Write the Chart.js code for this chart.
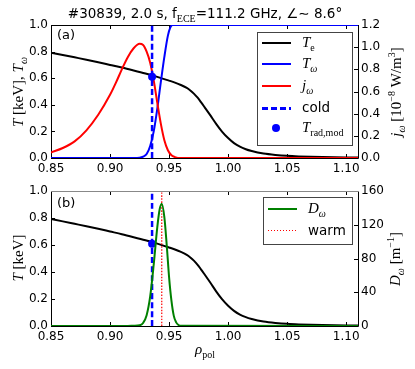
<!DOCTYPE html>
<html lang="en">
<head>
<meta charset="UTF-8" />
<title>ECE radiation transport #30839</title>
<script src="https://cdn.jsdelivr.net/npm/chart.js"></script>
<style>
  body { margin: 0; background: #fff; }
  #wrap { position: relative; width: 415px; height: 369px; overflow: hidden;
          font-family: "DejaVu Sans", sans-serif; color: #000; }
  canvas { position: absolute; left: 0; }
  .t { position: absolute; white-space: nowrap; line-height: 1; }
  .m { font-family: "Liberation Serif", serif; }
  .i { font-style: italic; }
  .rot { transform: translate(-50%, -50%) rotate(-90deg); }
  .ctr { transform: translate(-50%, -50%); }
  sub, sup { line-height: 0; }
  .box { position: absolute; border: 1px solid #444; background: #fff; }
  .smp { position: absolute; }
</style>
</head>
<body>
<div id="wrap">
  <canvas id="top" width="415" height="180" style="top:0"></canvas>
  <canvas id="bot" width="415" height="189" style="top:180px"></canvas>

  <div class="t ctr" style="left:205px; top:14px; font-size:13.5px">#30839, 2.0 s, f<sub class="m" style="font-size:10px">ECE</sub>=111.2 GHz, ∠∼ 8.6°</div>

  <div class="t" style="left:57px; top:28px; font-size:13px">(a)</div>
  <div class="t" style="left:57px; top:196px; font-size:13px">(b)</div>

  <div class="t m rot" style="left:18px; top:92px; font-size:15px"><span class="i">T</span> [keV], <span class="i">T</span><sub class="i" style="font-size:10px">ω</sub></div>
  <div class="t m rot" style="left:18px; top:258px; font-size:15px"><span class="i">T</span> [keV]</div>
  <div class="t m rot" style="left:396px; top:92px; font-size:15px"><span class="i">j</span><sub class="i" style="font-size:10px">ω</sub> [10<sup style="font-size:10px">−8</sup> W/m<sup style="font-size:10px">3</sup>]</div>
  <div class="t m rot" style="left:395px; top:259px; font-size:15px"><span class="i">D</span><sub class="i" style="font-size:10px">ω</sub> [m<sup style="font-size:10px">−1</sup>]</div>
  <div class="t m ctr" style="left:205px; top:349px; font-size:15px"><span class="i">ρ</span><sub style="font-size:10px">pol</sub></div>

  <!-- legend (a) -->
  <div class="box" style="left:257px; top:32px; width:94px; height:112px"></div>
  <div class="smp" style="left:262px; top:42px; width:29px; height:2px; background:#000"></div>
  <div class="smp" style="left:262px; top:63px; width:29px; height:2px; background:#00f"></div>
  <div class="smp" style="left:262px; top:85px; width:29px; height:2px; background:#f00"></div>
  <div class="smp" style="left:262px; top:107px; width:29px; height:2.5px; background:repeating-linear-gradient(90deg,#00f 0 6px,transparent 6px 9px)"></div>
  <div class="smp" style="left:272px; top:124px; width:8px; height:8px; border-radius:50%; background:#00f"></div>
  <div class="t m" style="left:302px; top:35px; font-size:15px"><span class="i">T</span><sub style="font-size:10px">e</sub></div>
  <div class="t m" style="left:302px; top:56px; font-size:15px"><span class="i">T</span><sub class="i" style="font-size:10px">ω</sub></div>
  <div class="t m" style="left:302px; top:78px; font-size:15px"><span class="i">j</span><sub class="i" style="font-size:10px">ω</sub></div>
  <div class="t" style="left:302px; top:101px; font-size:13.5px">cold</div>
  <div class="t m" style="left:302px; top:120px; font-size:15px"><span class="i">T</span><sub style="font-size:10px">rad,mod</sub></div>

  <!-- legend (b) -->
  <div class="box" style="left:263px; top:197px; width:88px; height:46px"></div>
  <div class="smp" style="left:268px; top:208px; width:29px; height:2px; background:#008000"></div>
  <div class="smp" style="left:268px; top:230px; width:29px; height:1px; background:repeating-linear-gradient(90deg,#f00 0 1.5px,transparent 1.5px 3px)"></div>
  <div class="t m" style="left:308px; top:201px; font-size:15px"><span class="i">D</span><sub class="i" style="font-size:10px">ω</sub></div>
  <div class="t" style="left:308px; top:224px; font-size:13.5px">warm</div>
</div>

<script>
// electron temperature T_e [keV]
const teRho = [0.85, 0.86, 0.87, 0.88, 0.89, 0.90, 0.91, 0.92, 0.93, 0.94,
               0.95, 0.955, 0.96, 0.965, 0.968, 0.971, 0.974, 0.977, 0.98, 0.985,
               0.99, 0.995, 1.00, 1.005, 1.01, 1.015, 1.02, 1.025, 1.03, 1.04,
               1.05, 1.06, 1.08, 1.10, 1.11];
const teVal = [0.792, 0.775, 0.757, 0.739, 0.72, 0.70, 0.68, 0.658, 0.635, 0.61,
               0.582, 0.567, 0.549, 0.527, 0.508, 0.484, 0.455, 0.42, 0.383, 0.32,
               0.255, 0.197, 0.15, 0.112, 0.085, 0.066, 0.052, 0.041, 0.033, 0.023,
               0.016, 0.012, 0.007, 0.004, 0.003];

// radiation temperature T_omega [keV]
const twRho = [0.85, 0.92, 0.925, 0.928, 0.931, 0.934, 0.937, 0.94, 0.943, 0.946,
               0.949, 0.951, 0.953, 0.955, 1.11];
const twVal = [0, 0, 0.002, 0.01, 0.03, 0.09, 0.2, 0.37, 0.57, 0.76,
               0.92, 0.98, 1.0, 1.0, 1.0];

// emissivity j_omega [1e-8 W/m^3]
const jRho = [0.85, 0.86, 0.87, 0.88, 0.89, 0.90, 0.905, 0.91, 0.915, 0.92,
              0.925, 0.928, 0.931, 0.934, 0.937, 0.94, 0.943, 0.946, 0.949, 0.952,
              0.955, 0.96, 1.11];
const jVal = [0.05, 0.09, 0.15, 0.25, 0.39, 0.57, 0.68, 0.80, 0.91, 0.99,
              1.03, 1.02, 0.96, 0.86, 0.70, 0.50, 0.31, 0.16, 0.07, 0.025,
              0.008, 0, 0];

// birthplace distribution D_omega [1/m]
const dRho = [0.85, 0.915, 0.92, 0.925, 0.928, 0.931, 0.934, 0.937, 0.94, 0.942,
              0.9438, 0.946, 0.948, 0.95, 0.952, 0.954, 0.956, 0.958, 0.96, 1.11];
const dVal = [0, 0, 0.3, 0.8, 3.6, 12.8, 35, 73, 117, 138,
              145, 129, 96, 58, 30, 12, 4.3, 1.2, 0.3, 0];

const coldRho = 0.9356;
const warmRho = 0.9438;
const tradRho = [0.9356];
const tradVal = [0.61];

const xTicks = [0.85, 0.90, 0.95, 1.00, 1.05, 1.10];
const xMin = 0.85, xMax = 1.11;

const pts = (xs, ys) => xs.map((x, i) => ({ x: x, y: ys[i] }));
const tickFont = { family: 'DejaVu Sans', size: 12 };

const framePlugin = {
  id: 'frame',
  beforeDatasetsDraw(chart, args, opts) {
    const { ctx, chartArea: a, scales } = chart;
    const { x, y, y2 } = scales;
    ctx.save();
    ctx.lineWidth = 1;
    ctx.strokeStyle = '#000';
    ctx.beginPath();
    x.ticks.forEach(t => {
      const p = Math.round(x.getPixelForValue(t.value)) + 0.5;
      ctx.moveTo(p, a.bottom); ctx.lineTo(p, a.bottom - 4);
      ctx.moveTo(p, a.top); ctx.lineTo(p, a.top + 4);
    });
    y.ticks.forEach(t => {
      const p = Math.round(y.getPixelForValue(t.value)) + 0.5;
      ctx.moveTo(a.left, p); ctx.lineTo(a.left + 4, p);
    });
    y2.ticks.forEach(t => {
      const p = Math.round(y2.getPixelForValue(t.value)) + 0.5;
      ctx.moveTo(a.right, p); ctx.lineTo(a.right - 4, p);
    });
    ctx.moveTo(a.left + 0.5, a.top); ctx.lineTo(a.left + 0.5, a.bottom + 0.5);
    ctx.lineTo(a.right + 0.5, a.bottom + 0.5); ctx.lineTo(a.right + 0.5, a.top);
    ctx.stroke();
    ctx.strokeStyle = opts.topColor || '#000';
    ctx.beginPath();
    ctx.moveTo(a.left, a.top + 0.5); ctx.lineTo(a.right + 1, a.top + 0.5);
    ctx.stroke();
    ctx.restore();
  }
};

function scalesFor(rightMax, rightStep, rightFmt, xHeight) {
  return {
    x: {
      type: 'linear', min: xMin, max: xMax,
      afterBuildTicks: s => { s.ticks = xTicks.map(v => ({ value: v })); },
      afterFit: s => { s.height = xHeight; },
      grid: { display: false, drawTicks: false }, border: { display: false },
      ticks: { autoSkip: false, maxRotation: 0, padding: 4, color: '#000', font: tickFont,
               callback: v => v.toFixed(2) }
    },
    y: {
      position: 'left', min: 0, max: 1,
      afterFit: s => { s.width = 51; },
      grid: { display: false, drawTicks: false }, border: { display: false },
      ticks: { stepSize: 0.2, padding: 3, color: '#000', font: tickFont,
               callback: v => v.toFixed(1) }
    },
    y2: {
      position: 'right', min: 0, max: rightMax,
      afterFit: s => { s.width = 57; },
      grid: { display: false, drawTicks: false }, border: { display: false },
      ticks: { stepSize: rightStep, padding: 3, color: '#000', font: tickFont,
               callback: rightFmt }
    }
  };
}

function line(data, color, width, extra) {
  return Object.assign({
    data: data, showLine: true, borderColor: color, backgroundColor: color,
    borderWidth: width, pointRadius: 0, cubicInterpolationMode: 'monotone', yAxisID: 'y'
  }, extra || {});
}

const common = {
  responsive: false, animation: false, events: [],
  plugins: { legend: { display: false }, tooltip: { enabled: false } }
};

const vert = (rho, top) => [{ x: rho, y: 0 }, { x: rho, y: top }];

new Chart(document.getElementById('top'), {
  type: 'scatter',
  data: {
    datasets: [
      line(vert(coldRho, 1), '#00f', 2.5, { borderDash: [6, 3], order: 1 }),
      { data: pts(tradRho, tradVal), pointRadius: 4, backgroundColor: '#00f', borderWidth: 0, yAxisID: 'y', order: 0 },
      line(pts(jRho, jVal), '#f00', 2, { yAxisID: 'y2', order: 2 }),
      line(pts(twRho, twVal), '#00f', 2, { order: 3 }),
      line(pts(teRho, teVal), '#000', 2, { order: 4 })
    ]
  },
  options: Object.assign({}, common, {
    layout: { padding: { top: 25, left: 0, right: 0, bottom: 0 } },
    scales: scalesFor(1.2, 0.2, v => v.toFixed(1), 22),
    plugins: Object.assign({}, common.plugins, { frame: { topColor: '#000' } })
  }),
  plugins: [framePlugin]
});

new Chart(document.getElementById('bot'), {
  type: 'scatter',
  data: {
    datasets: [
      line(vert(warmRho, 1), '#f00', 1.2, { borderDash: [1.5, 1.5], order: 1 }),
      line(vert(coldRho, 1), '#00f', 2.5, { borderDash: [6, 3], order: 2 }),
      { data: pts(tradRho, tradVal), pointRadius: 4, backgroundColor: '#00f', borderWidth: 0, yAxisID: 'y', order: 3 },
      line(pts(dRho, dVal), '#008000', 2, { yAxisID: 'y2', order: 0 }),
      line(pts(teRho, teVal), '#000', 2, { order: 4 })
    ]
  },
  options: Object.assign({}, common, {
    layout: { padding: { top: 11, left: 0, right: 0, bottom: 0 } },
    scales: scalesFor(160, 20, v => String(Math.round(v)), 43),
    plugins: Object.assign({}, common.plugins, { frame: { topColor: '#888' } })
  }),
  plugins: [framePlugin]
});
</script>
</body>
</html>
